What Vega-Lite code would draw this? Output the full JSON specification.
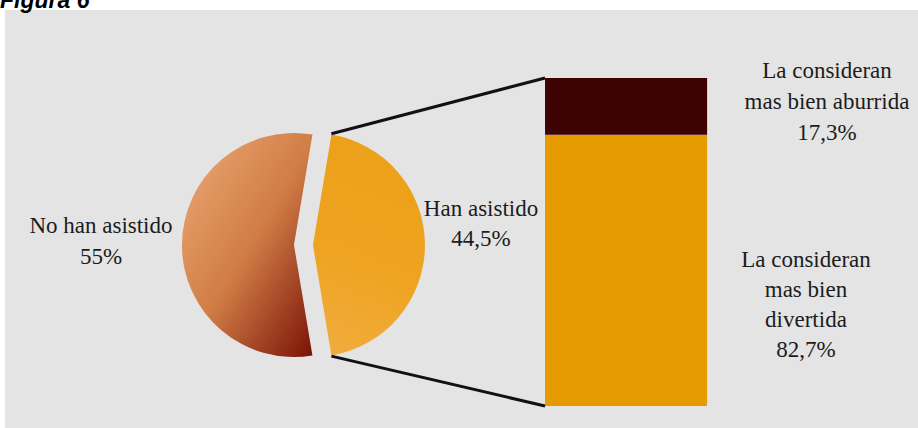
{
  "$schema": "https://vega.github.io/schema/vega-lite/v6.json",
  "autosize": {"type": "none"},
  "width": 913,
  "height": 418,
  "padding": {"left": 5, "top": 10, "right": 0, "bottom": 0},
  "background": "#ffffff",
  "config": {"view": {"fill": "#e4e4e4", "stroke": null}},
  "datasets": {
    "pie": [
      {"grp": "Han asistido", "pct": 44.5, "ord": 1},
      {"grp": "No han asistido", "pct": 55, "ord": 2}
    ],
    "bar": [
      {"seg": "La consideran mas bien divertida", "pct": 82.7, "ord": 1},
      {"seg": "La consideran mas bien aburrida", "pct": 17.3, "ord": 2}
    ],
    "one": [{}]
  },
  "layer": [
    {
      "data": {"name": "pie"},
      "mark": {"type": "arc", "outerRadius": 112, "fill": {"gradient": "linear", "x1": 0.15, "y1": 0.1, "x2": 1, "y2": 1, "stops": [{"offset": 0, "color": "#e6a06a"}, {"offset": 0.45, "color": "#d07c46"}, {"offset": 1, "color": "#7a1206"}]}},
      "encoding": {
        "x": {"datum": 31.65, "type": "quantitative", "scale": {"domain": [0, 100], "nice": false, "zero": false}, "axis": null},
        "y": {"datum": 49.08, "type": "quantitative", "scale": {"domain": [-6.71, 120.73], "nice": false, "zero": false}, "axis": null},
        "theta": {"field": "pct", "type": "quantitative", "stack": true, "scale": {"range": [0.1658, 6.4490]}},
        "order": {"field": "ord", "type": "quantitative"},
        "fillOpacity": {"condition": {"test": "datum.grp === 'No han asistido'", "value": 1}, "value": 0}
      }
    },
    {
      "data": {"name": "pie"},
      "mark": {"type": "arc", "outerRadius": 112, "fill": {"gradient": "linear", "x1": 0.5, "y1": 0, "x2": 0.3, "y2": 1, "stops": [{"offset": 0, "color": "#eda018"}, {"offset": 0.6, "color": "#eea422"}, {"offset": 1, "color": "#f1ab3c"}]}},
      "encoding": {
        "x": {"datum": 33.73, "type": "quantitative", "scale": {"domain": [0, 100], "nice": false, "zero": false}, "axis": null},
        "y": {"datum": 49.08, "type": "quantitative", "scale": {"domain": [-6.71, 120.73], "nice": false, "zero": false}, "axis": null},
        "theta": {"field": "pct", "type": "quantitative", "stack": true, "scale": {"range": [0.1658, 6.4490]}},
        "order": {"field": "ord", "type": "quantitative"},
        "fillOpacity": {"condition": {"test": "datum.grp === 'Han asistido'", "value": 1}, "value": 0}
      }
    },
    {
      "data": {"name": "bar"},
      "transform": [{"stack": "pct", "groupby": [], "sort": [{"field": "ord", "order": "ascending"}], "as": ["lo", "hi"]}],
      "mark": {"type": "rect"},
      "encoding": {
        "x": {"datum": 59.15, "type": "quantitative", "scale": {"domain": [0, 100], "nice": false, "zero": false}, "axis": null},
        "x2": {"datum": 76.9},
        "y": {"field": "lo", "type": "quantitative", "scale": {"domain": [-6.71, 120.73], "nice": false, "zero": false}, "axis": null},
        "y2": {"field": "hi"},
        "color": {"field": "seg", "type": "nominal", "scale": {"domain": ["La consideran mas bien divertida", "La consideran mas bien aburrida"], "range": ["#e59a00", "#3e0202"]}, "legend": null}
      }
    },
    {
      "data": {"name": "one"},
      "mark": {"type": "rule", "color": "#111111", "strokeWidth": 3},
      "encoding": {
        "x": {"datum": 35.75, "type": "quantitative", "scale": {"domain": [0, 100], "nice": false, "zero": false}, "axis": null},
        "y": {"datum": 83.0, "type": "quantitative", "scale": {"domain": [-6.71, 120.73], "nice": false, "zero": false}, "axis": null},
        "x2": {"datum": 59.15},
        "y2": {"datum": 100}
      }
    },
    {
      "data": {"name": "one"},
      "mark": {"type": "rule", "color": "#111111", "strokeWidth": 3},
      "encoding": {
        "x": {"datum": 35.75, "type": "quantitative", "scale": {"domain": [0, 100], "nice": false, "zero": false}, "axis": null},
        "y": {"datum": 15.2, "type": "quantitative", "scale": {"domain": [-6.71, 120.73], "nice": false, "zero": false}, "axis": null},
        "x2": {"datum": 59.15},
        "y2": {"datum": 0}
      }
    },
    {
      "data": {"name": "one"},
      "mark": {"type": "text", "text": ["No han asistido", "55%"], "font": "Liberation Serif", "fontSize": 23, "lineHeight": 31, "align": "center", "baseline": "alphabetic", "color": "#1c1c1c"},
      "encoding": {
        "x": {"datum": 10.51, "type": "quantitative", "scale": {"domain": [0, 100], "nice": false, "zero": false}, "axis": null},
        "y": {"datum": 52.74, "type": "quantitative", "scale": {"domain": [-6.71, 120.73], "nice": false, "zero": false}, "axis": null}
      }
    },
    {
      "data": {"name": "one"},
      "mark": {"type": "text", "text": ["Han asistido", "44,5%"], "font": "Liberation Serif", "fontSize": 23, "lineHeight": 30, "align": "center", "baseline": "alphabetic", "color": "#1c1c1c"},
      "encoding": {
        "x": {"datum": 52.14, "type": "quantitative", "scale": {"domain": [0, 100], "nice": false, "zero": false}, "axis": null},
        "y": {"datum": 57.93, "type": "quantitative", "scale": {"domain": [-6.71, 120.73], "nice": false, "zero": false}, "axis": null}
      }
    },
    {
      "data": {"name": "one"},
      "mark": {"type": "text", "text": ["La consideran", "mas bien aburrida", "17,3%"], "font": "Liberation Serif", "fontSize": 23, "lineHeight": 31, "align": "center", "baseline": "alphabetic", "color": "#1c1c1c"},
      "encoding": {
        "x": {"datum": 90.03, "type": "quantitative", "scale": {"domain": [0, 100], "nice": false, "zero": false}, "axis": null},
        "y": {"datum": 100.0, "type": "quantitative", "scale": {"domain": [-6.71, 120.73], "nice": false, "zero": false}, "axis": null}
      }
    },
    {
      "data": {"name": "one"},
      "mark": {"type": "text", "text": ["La consideran", "mas bien", "divertida", "82,7%"], "font": "Liberation Serif", "fontSize": 23, "lineHeight": 30, "align": "center", "baseline": "alphabetic", "color": "#1c1c1c"},
      "encoding": {
        "x": {"datum": 87.73, "type": "quantitative", "scale": {"domain": [0, 100], "nice": false, "zero": false}, "axis": null},
        "y": {"datum": 42.38, "type": "quantitative", "scale": {"domain": [-6.71, 120.73], "nice": false, "zero": false}, "axis": null}
      }
    },
    {
      "data": {"name": "one"},
      "mark": {"type": "text", "text": "Figura 6", "font": "Liberation Sans", "fontSize": 23, "fontWeight": "bold", "fontStyle": "italic", "align": "left", "baseline": "alphabetic", "color": "#000000"},
      "encoding": {
        "x": {"datum": -0.55, "type": "quantitative", "scale": {"domain": [0, 100], "nice": false, "zero": false}, "axis": null},
        "y": {"datum": 121.3, "type": "quantitative", "scale": {"domain": [-6.71, 120.73], "nice": false, "zero": false}, "axis": null}
      }
    }
  ]
}
